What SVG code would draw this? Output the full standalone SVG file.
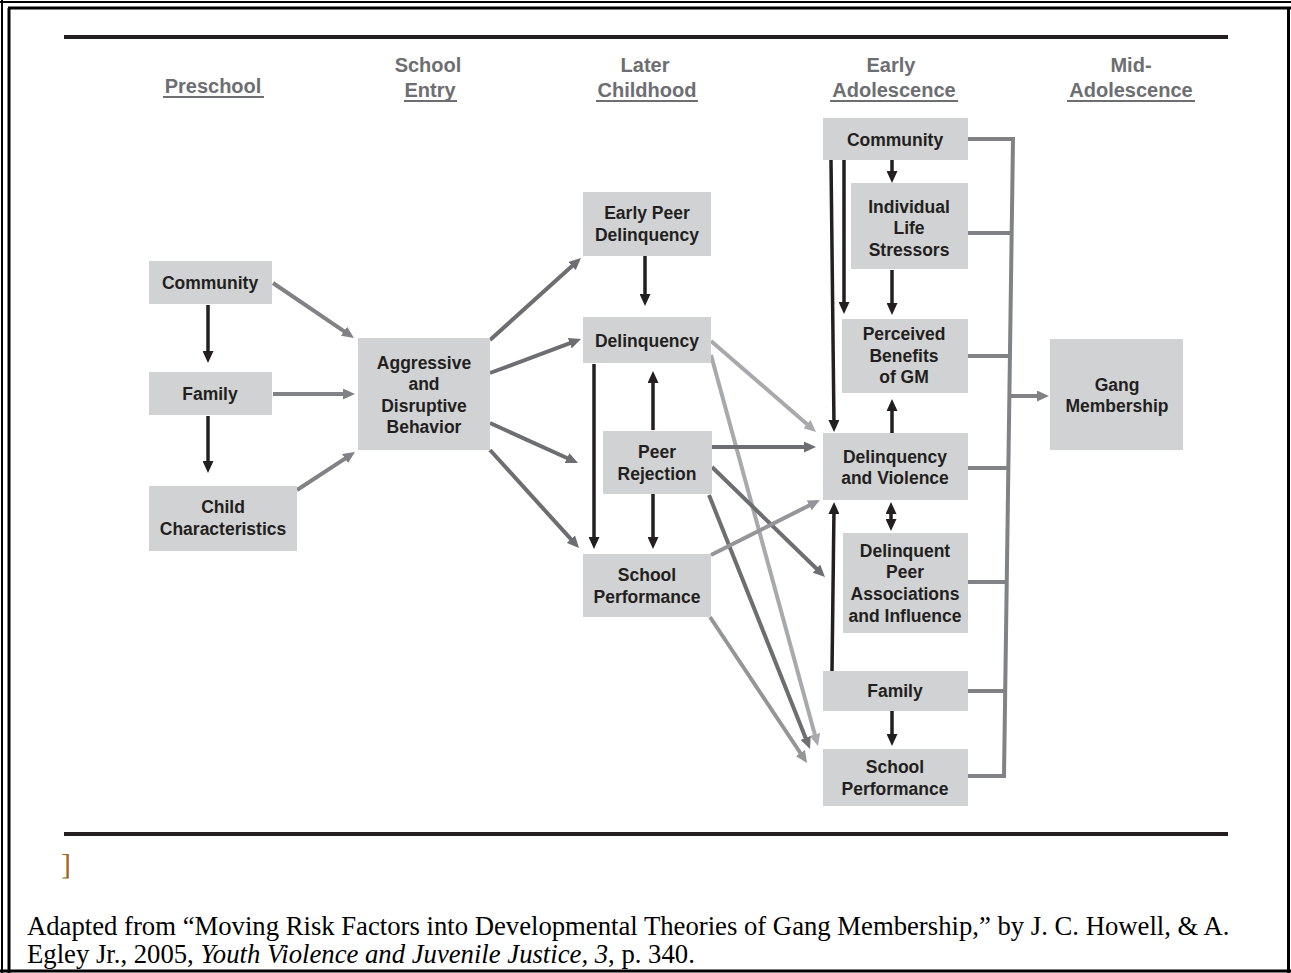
<svg xmlns="http://www.w3.org/2000/svg" width="1291" height="973" viewBox="0 0 1291 973">
<style>
.node rect{fill:#d1d2d4}
.node text{font-family:"Liberation Sans",Arial,sans-serif;font-weight:bold;font-size:17.5px;fill:#231f20;text-anchor:middle}
.hdr{font-family:"Liberation Sans",Arial,sans-serif;font-weight:bold;font-size:20px;fill:#6d6e71;text-anchor:middle}
.ul{stroke:#6d6e71;stroke-width:2}
.k{stroke:#231f20;stroke-width:3.5;fill:none;marker-end:url(#ak)}
.d{stroke:#6d6e71;stroke-width:4;fill:none;marker-end:url(#ad)}
.m{stroke:#808285;stroke-width:4;fill:none;marker-end:url(#am)}
.l{stroke:#a7a9ac;stroke-width:4;fill:none;marker-end:url(#al)}
.s{stroke:#939598;stroke-width:4;fill:none;marker-end:url(#as)}
.br{stroke:#808285;stroke-width:4;fill:none}
.cap{font-family:"Liberation Serif","Times New Roman",serif;font-size:26.7px;fill:#000}
</style>
<defs>
<marker id="ak" markerUnits="userSpaceOnUse" markerWidth="13" markerHeight="11" refX="6" refY="5.5" orient="auto-start-reverse"><path d="M0,0 L12,5.5 L0,11 z" fill="#231f20"/></marker>
<marker id="ad" markerUnits="userSpaceOnUse" markerWidth="13" markerHeight="11" refX="6" refY="5.5" orient="auto"><path d="M0,0 L12,5.5 L0,11 z" fill="#6d6e71"/></marker>
<marker id="am" markerUnits="userSpaceOnUse" markerWidth="13" markerHeight="11" refX="6" refY="5.5" orient="auto"><path d="M0,0 L12,5.5 L0,11 z" fill="#808285"/></marker>
<marker id="al" markerUnits="userSpaceOnUse" markerWidth="13" markerHeight="11" refX="6" refY="5.5" orient="auto"><path d="M0,0 L12,5.5 L0,11 z" fill="#a7a9ac"/></marker>
<marker id="as" markerUnits="userSpaceOnUse" markerWidth="13" markerHeight="11" refX="6" refY="5.5" orient="auto"><path d="M0,0 L12,5.5 L0,11 z" fill="#939598"/></marker>
</defs>
<rect width="1291" height="973" fill="#fff"/>
<!-- page frame -->
<g id="frame" stroke="#000" fill="none">
<line x1="0" y1="2" x2="1291" y2="2" stroke-width="2"/>
<line x1="8" y1="8" x2="1291" y2="8" stroke-width="3"/>
<line x1="2" y1="0" x2="2" y2="973" stroke-width="2"/>
<line x1="9" y1="8" x2="9" y2="973" stroke-width="3"/>
<line x1="1288.5" y1="8" x2="1288.5" y2="973" stroke-width="3"/>
<line x1="0" y1="971" x2="1291" y2="971" stroke-width="3"/>
</g>
<g id="rules">
<line x1="64" y1="37" x2="1228" y2="37" stroke="#231f20" stroke-width="4"/>
<line x1="64" y1="834" x2="1228" y2="834" stroke="#231f20" stroke-width="4"/>
</g>
<g id="headers">
<text class="hdr" x="213" y="93">Preschool</text>
<line class="ul" x1="163" y1="97" x2="264" y2="97"/>
<text class="hdr" x="428" y="72">School</text>
<text class="hdr" x="430" y="97">Entry</text>
<line class="ul" x1="404" y1="101" x2="457" y2="101"/>
<text class="hdr" x="645" y="72">Later</text>
<text class="hdr" x="647" y="97">Childhood</text>
<line class="ul" x1="596" y1="101" x2="698" y2="101"/>
<text class="hdr" x="891" y="72">Early</text>
<text class="hdr" x="894" y="97">Adolescence</text>
<line class="ul" x1="830" y1="101" x2="958" y2="101"/>
<text class="hdr" x="1131" y="72">Mid-</text>
<text class="hdr" x="1131" y="97">Adolescence</text>
<line class="ul" x1="1067" y1="101" x2="1195" y2="101"/>
</g>
<g id="connectors">
<!-- preschool -->
<path class="k" d="M208,305 L208,357"/>
<path class="k" d="M208,416 L208,467"/>
<path class="m" d="M273,283 L349,334.6"/>
<path class="m" d="M273,394 L349,394"/>
<path class="m" d="M297,490 L350,455.3"/>
<!-- from aggressive -->
<path class="d" d="M490,340 L576.5,262"/>
<path class="d" d="M490,373 L575.4,341.1"/>
<path class="d" d="M490,423 L572.5,460.5"/>
<path class="d" d="M490,450 L575,543.6"/>
<!-- later childhood internal -->
<path class="k" d="M645,256 L645,300"/>
<path class="k" d="M594,364 L594,543"/>
<path class="k" d="M653,430 L653,377"/>
<path class="k" d="M653,494 L653,543"/>
<!-- later childhood to early adolescence -->
<path class="l" d="M711,341 L811.5,428.1"/>
<path class="l" d="M711,355 L816.4,740.2"/>
<path class="d" d="M712,447 L810,447"/>
<path class="d" d="M712,467 L820.7,572.8"/>
<path class="d" d="M709,495 L807.8,743.4"/>
<path class="s" d="M711,555 L814.6,502.7"/>
<path class="s" d="M710,617 L803.7,758"/>
<!-- early adolescence internal -->
<path class="k" d="M892,160 L892,177"/>
<path class="k" d="M892,270 L892,309"/>
<path class="k" d="M844,160 L844,308"/>
<path class="k" d="M831,160 L834,426"/>
<path class="k" d="M892,433 L892,405"/>
<path class="k" d="M891,508 L891,525" marker-start="url(#ak)"/>
<path class="k" d="M832,671 L834,508"/>
<path class="k" d="M892,711 L892,740"/>
<!-- bracket to gang membership -->
<path class="br" d="M968,139 L1013,139 L1004,776 L968,776"/>
<path class="br" d="M968,233 L1011.7,233"/>
<path class="br" d="M968,356 L1009.9,356"/>
<path class="br" d="M968,468 L1008.4,468"/>
<path class="br" d="M968,582 L1006.7,582"/>
<path class="br" d="M968,691 L1005.2,691"/>
<path class="m" d="M1009,396 L1043,396"/>
</g>
<g id="n-community1" class="node"><rect x="149" y="261" width="123" height="43"/><text x="210" y="289">Community</text></g>
<g id="n-family1" class="node"><rect x="149" y="372" width="123" height="43"/><text x="210" y="400">Family</text></g>
<g id="n-child" class="node"><rect x="149" y="486" width="148" height="65"/><text x="223" y="513">Child</text><text x="223" y="535">Characteristics</text></g>
<g id="n-aggressive" class="node"><rect x="358" y="338" width="132" height="112"/><text x="424" y="369">Aggressive</text><text x="424" y="390">and</text><text x="424" y="412">Disruptive</text><text x="424" y="433">Behavior</text></g>
<g id="n-earlypeer" class="node"><rect x="583" y="192" width="128" height="64"/><text x="647" y="219">Early Peer</text><text x="647" y="241">Delinquency</text></g>
<g id="n-delinquency" class="node"><rect x="583" y="317" width="128" height="46"/><text x="647" y="347">Delinquency</text></g>
<g id="n-peerrej" class="node"><rect x="603" y="431" width="109" height="63"/><text x="657" y="458">Peer</text><text x="657" y="480">Rejection</text></g>
<g id="n-school1" class="node"><rect x="583" y="554" width="128" height="63"/><text x="647" y="581">School</text><text x="647" y="603">Performance</text></g>
<g id="n-community2" class="node"><rect x="823" y="118" width="145" height="42"/><text x="895" y="146">Community</text></g>
<g id="n-stressors" class="node"><rect x="851" y="183" width="117" height="86"/><text x="909" y="213">Individual</text><text x="909" y="234">Life</text><text x="909" y="256">Stressors</text></g>
<g id="n-benefits" class="node"><rect x="842" y="319" width="126" height="74"/><text x="904" y="340">Perceived</text><text x="904" y="362">Benefits</text><text x="904" y="383">of GM</text></g>
<g id="n-delviol" class="node"><rect x="823" y="433" width="145" height="67"/><text x="895" y="463">Delinquency</text><text x="895" y="484">and Violence</text></g>
<g id="n-delpeer" class="node"><rect x="843" y="533" width="125" height="100"/><text x="905" y="557">Delinquent</text><text x="905" y="578">Peer</text><text x="905" y="600">Associations</text><text x="905" y="622">and Influence</text></g>
<g id="n-family2" class="node"><rect x="823" y="671" width="145" height="40"/><text x="895" y="697">Family</text></g>
<g id="n-school2" class="node"><rect x="823" y="749" width="145" height="57"/><text x="895" y="773">School</text><text x="895" y="795">Performance</text></g>
<g id="n-gang" class="node"><rect x="1050" y="339" width="133" height="111"/><text x="1117" y="391">Gang</text><text x="1117" y="412">Membership</text></g>
<g id="caption">
<text x="61" y="874" font-family="Liberation Serif,serif" font-size="30" fill="#a0661a">]</text>
<text class="cap" x="27" y="935">Adapted from “Moving Risk Factors into Developmental Theories of Gang Membership,” by J. C. Howell, &amp; A.</text>
<text class="cap" x="27" y="963">Egley Jr., 2005, <tspan font-style="italic">Youth Violence and Juvenile Justice, 3</tspan>, p. 340.</text>
</g>
</svg>
